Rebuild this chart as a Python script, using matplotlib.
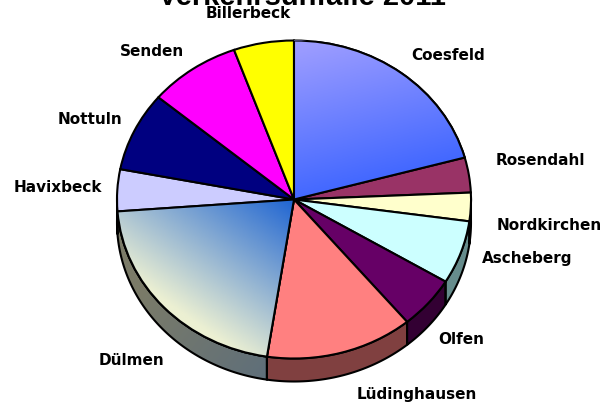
import numpy as np
import matplotlib
matplotlib.use("Agg")
import matplotlib.pyplot as plt
from matplotlib.colors import LinearSegmentedColormap
from matplotlib.patches import Polygon, Wedge

TITLE = "Verkehrsunfälle 2011"
categories = ["Coesfeld", "Rosendahl", "Nordkirchen", "Ascheberg", "Olfen", "Lüdinghausen",
              "Dülmen", "Havixbeck", "Nottuln", "Senden", "Billerbeck"]
values = [74.7, 12.8, 10.4, 23.2, 19.2, 48.5, 76.9, 15.3, 29.0, 30.2, 19.8]
colors = ["#6f7fff", "#993366", "#ffffcc", "#ccffff", "#660066", "#ff8080",
          "#a0b0c0", "#ccccff", "#000080", "#ff00ff", "#ffff00"]
wall_colors = ["#404080", "#4d1a33", "#808066", "#668c8c", "#330033", "#804040",
               "#6a6f68", "#666680", "#000040", "#800080", "#808000"]
label_px = [(448, 55), (540, 161), (549, 225), (527, 258), (461, 339), (417, 395),
            (131, 361), (58, 188), (90, 120), (152, 51), (248, 14)]

W, H = 609, 406
CX, CY, RX, RY, DEPTH = 294, 200.5, 177, 159, 23
LW = 1.5

fig = plt.figure(figsize=(W / 100, H / 100), dpi=100)
ax = fig.add_axes([(CX - RX) / W, 1 - (CY + RY) / H, 2 * RX / W, 2 * RY / H])
wedges, _ = ax.pie(values, colors=colors, startangle=90, counterclock=False, radius=1,
                   wedgeprops=dict(edgecolor="black", linewidth=LW, zorder=5))
ax.set_aspect("auto")
ax.axis("off")
ax.set_xlim(-1, 1)
ax.set_ylim(-1, 1)
d = DEPTH / RY


def gradient(patch, c0, c1, start, end, z):
    n = 220
    xx, yy = np.meshgrid(np.linspace(-1, 1, n), np.linspace(-1.2, 1, n))
    s = np.array(start, float)
    e = np.array(end, float)
    f = ((xx - s[0]) * (e - s)[0] + (yy - s[1]) * (e - s)[1]) / np.dot(e - s, e - s)
    cm = LinearSegmentedColormap.from_list("g", [c0, c1])
    im = ax.imshow(np.clip(f, 0, 1), cmap=cm, vmin=0, vmax=1, extent=(-1, 1, -1.2, 1),
                   origin="lower", aspect="auto", zorder=z, interpolation="bilinear")
    im.set_clip_box(fig.bbox)
    im.set_clip_path(patch)


# side walls of the lower half
edges = 90 - np.cumsum([0] + values)
for i, (a, b) in enumerate(zip(edges[:-1], edges[1:])):
    t = np.radians(np.linspace(a, b, 80))
    t = t[np.sin(t) <= 0.02]
    if len(t) < 2:
        continue
    x, y = np.cos(t), np.sin(t)
    pts = np.r_[np.c_[x, y], np.c_[x, y - d][::-1]]
    p = Polygon(pts, closed=True, fc=wall_colors[i], ec="none", zorder=2, clip_on=False)
    ax.add_patch(p)
    if categories[i] == "Dülmen":
        gradient(p, "#7b7b68", "#5f6f7a", (-0.9, -0.6), (-0.15, -1.12), 3)
    ax.add_patch(Polygon(pts, closed=True, fc="none", ec="black", lw=LW, zorder=4, clip_on=False))

# gradient fills: Coesfeld, Dülmen
gradient(wedges[0], "#9c9cff", "#3c64ff", (0.0, 0.95), (0.27, 0.0), 6)
gradient(wedges[6], "#1e64d2", "#ecf0d2", (0.0, 0.0), (-0.6, -0.75), 6)
for w in (wedges[0], wedges[6]):
    ax.add_patch(Wedge(w.center, w.r, w.theta1, w.theta2, fc="none", ec="black", lw=LW, zorder=7))
ax.set_xlim(-1, 1)
ax.set_ylim(-1, 1)

for name, (x, y) in zip(categories, label_px):
    fig.text(x / W, 1 - y / H, name, ha="center", va="center", fontsize=11,
             fontweight="bold", family="DejaVu Sans", color="black")
fig.text(302 / W, 1 - 5 / H, TITLE, ha="center", va="baseline", fontsize=21,
         fontweight="bold", family="Liberation Sans", color="black")
fig.savefig("out.png", dpi=100, facecolor="white")
